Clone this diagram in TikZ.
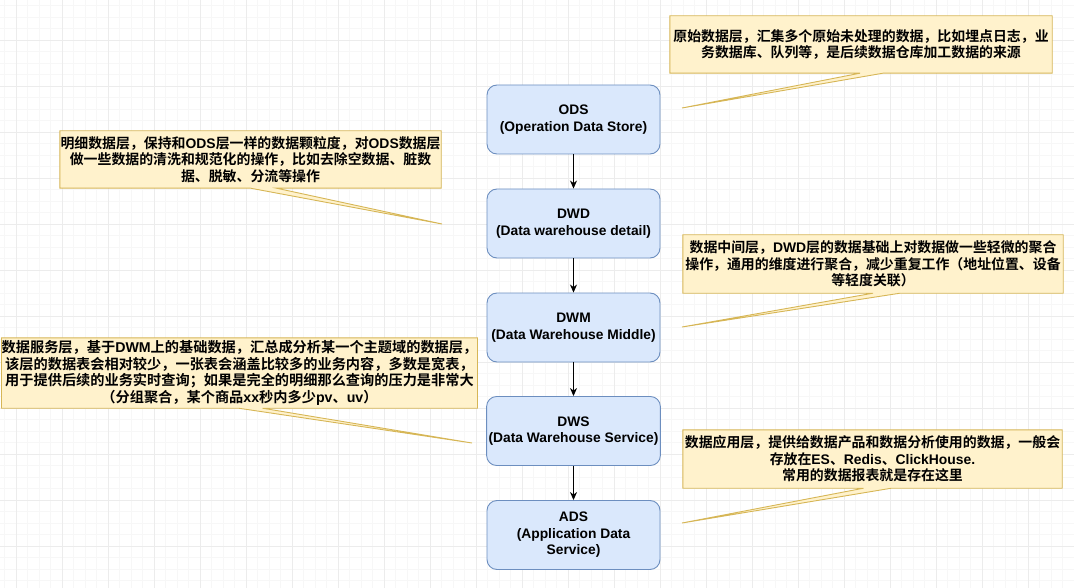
\documentclass[tikz,border=0pt]{standalone}
\usepackage{fontspec}
\setmainfont{Liberation Sans}[BoldFont={Liberation Sans Bold}]
\newfontfamily\cjk{Noto Sans CJK SC}[BoldFont={Noto Sans CJK SC Bold}]
\usetikzlibrary{arrows.meta,backgrounds}
\newcommand\eng[1]{{\rmfamily\bfseries #1}}
\definecolor{boxfill}{HTML}{DAE8FC}
\definecolor{boxdraw}{HTML}{6C8EBF}
\definecolor{notefill}{HTML}{FFF2CC}
\definecolor{notedraw}{HTML}{D6B656}
\tikzset{
  layer/.style={draw=boxdraw, fill=boxfill, rounded corners=10pt, line width=0.9pt,
    minimum width=173pt, minimum height=69pt, align=center, inner sep=2pt,
    font=\bfseries\fontsize{13.8}{16.5}\selectfont},
  note/.style={align=center, inner sep=0pt, font=\cjk\bfseries\fontsize{13.9}{16.6}\selectfont},
  notebig/.style={note, font=\cjk\bfseries\fontsize{14.2}{16.6}\selectfont},
  notebox/.style={draw=notedraw, fill=notefill, line width=0.9pt, line join=miter},
  flow/.style={draw=black, line width=0.9pt, -{Stealth[length=8pt,width=7pt,inset=2.5pt]}},
  minorgrid/.style={draw=gray!6, line width=0.5pt},
  majorgrid/.style={draw=gray!15, line width=0.6pt}
}
\begin{document}
\begin{tikzpicture}[x=1pt,y=-1pt]
\useasboundingbox (0,0) rectangle (1074,588);
% layer boxes
\node[layer] (ods) at (573.5,119.5) {ODS\\(Operation Data Store)};
\node[layer] (dwd) at (573.5,223.5) {DWD\\(Data warehouse detail)};
\node[layer] (dwm) at (573.5,327.5) {DWM\\(Data Warehouse Middle)};
\node[layer] (dws) at (573.5,431) {DWS\\(Data Warehouse Service)};
\node[layer] (ads) at (573.5,535) {ADS\\(Application Data\\Service)};
\draw[flow] (ods) -- (dwd);
\draw[flow] (dwd) -- (dwm);
\draw[flow] (dwm) -- (dws);
\draw[flow] (dws) -- (ads);
% notes text
\node[note, minimum width=382pt, minimum height=57pt] (n1) at (861,44.5)
  {原始数据层，汇集多个原始未处理的数据，比如埋点日志，业\\务数据库、队列等，是后续数据仓库加工数据的来源};
\node[note, minimum width=381pt, minimum height=57pt] (n2) at (250.5,159.5)
  {明细数据层，保持和\eng{ODS}层一样的数据颗粒度，对\eng{ODS}数据层\\做一些数据的清洗和规范化的操作，比如去除空数据、脏数\\据、脱敏、分流等操作};
\node[note, minimum width=380pt, minimum height=58pt] (n3) at (873,264)
  {数据中间层，\eng{DWD}层的数据基础上对数据做一些轻微的聚合\\操作，通用的维度进行聚合，减少重复工作（地址位置、设备\\等轻度关联）};
\node[notebig, minimum width=475pt, minimum height=70pt] (n4) at (239.5,373)
  {数据服务层，基于\eng{DWM}上的基础数据，汇总成分析某一个主题域的数据层，\\该层的数据表会相对较少，一张表会涵盖比较多的业务内容，多数是宽表，\\用于提供后续的业务实时查询；如果是完全的明细那么查询的压力是非常大\\（分组聚合，某个商品\eng{xx}秒内多少\eng{pv}、\eng{uv}）};
\node[note, minimum width=379pt, minimum height=58pt] (n5) at (872.5,459)
  {数据应用层，提供给数据产品和数据分析使用的数据，一般会\\存放在\eng{ES}、\eng{Redis}、\eng{ClickHouse.}\\常用的数据报表就是存在这里};
\coordinate (t1) at (682,108);
\coordinate (t2) at (442,224);
\coordinate (t3) at (682,327);
\coordinate (t4) at (472,443);
\coordinate (t5) at (682,523);
\begin{scope}[on background layer]
  \begin{scope}
    \clip (0,0) rectangle (1074,588);
    \foreach \i in {0,...,96} {\draw[minorgrid] ({4.5+11.5*\i},0) -- ++(0,588);}
    \foreach \i in {0,...,52} {\draw[minorgrid] (0,{5.5+11.5*\i}) -- ++(1074,0);}
    \foreach \i in {0,...,24} {\draw[majorgrid] ({16+46*\i},0) -- ++(0,588);}
    \foreach \i in {0,...,13} {\draw[majorgrid] (0,{40+46*\i}) -- ++(1074,0);}
  \end{scope}
  \draw[notebox] (n1.north west) -- (n1.north east) -- (n1.south east) -- ([xshift=22pt]n1.south) -- (t1) -- ([xshift=-1pt]n1.south) -- (n1.south west) -- cycle;
  \draw[notebox] (n2.north west) -- (n2.north east) -- (n2.south east) -- ([xshift=26pt]n2.south) -- (t2) -- ([xshift=0pt]n2.south) -- (n2.south west) -- cycle;
  \draw[notebox] (n3.north west) -- (n3.north east) -- (n3.south east) -- ([xshift=27pt]n3.south) -- (t3) -- ([xshift=0pt]n3.south) -- (n3.south west) -- cycle;
  \draw[notebox] (n4.north west) -- (n4.north east) -- (n4.south east) -- ([xshift=23pt]n4.south) -- (t4) -- ([xshift=-1pt]n4.south) -- (n4.south west) -- cycle;
  \draw[notebox] (n5.north west) -- (n5.north east) -- (n5.south east) -- ([xshift=19pt]n5.south) -- (t5) -- ([xshift=-9pt]n5.south) -- (n5.south west) -- cycle;
\end{scope}
\end{tikzpicture}
\end{document}
